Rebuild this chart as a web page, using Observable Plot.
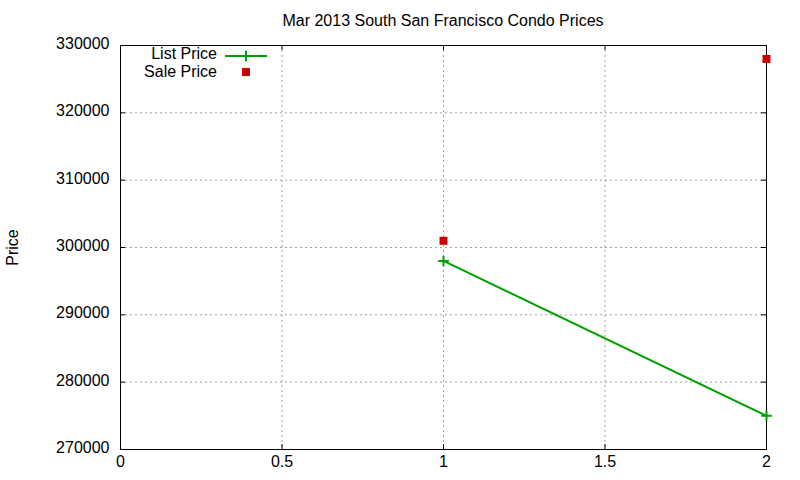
<!DOCTYPE html>
<html>
<head>
<meta charset="utf-8">
<script src="https://cdn.jsdelivr.net/npm/d3@7"></script>
<script src="https://cdn.jsdelivr.net/npm/@observablehq/plot@0.6"></script>
<style>
  body { margin: 0; background: #fff; font-family: "Liberation Sans", Arial, sans-serif; }
  #wrap { position: relative; width: 800px; height: 480px; overflow: hidden; }
  #title { position: absolute; left: 120px; width: 646px; top: 12.5px; height: 16px; line-height: 16px;
           text-align: center; font-size: 16px; color: #000; }
  #chart { position: absolute; left: 0; top: 35px; }
  #legend { position: absolute; left: 0; top: 0; }
</style>
</head>
<body>
<div id="wrap">
  <div id="title">Mar 2013 South San Francisco Condo Prices</div>
  <div id="chart"></div>
  <svg id="legend" width="300" height="90"></svg>
</div>
<script>
// ---- data ----
const xValues = [1, 2];
const listPrice = [298000, 275000];
const salePrice = [301000, 328000];
const xTicks = [0, 0.5, 1, 1.5, 2];
const yTicks = [270000, 280000, 290000, 300000, 310000, 320000, 330000];
const seriesNames = ["List Price", "Sale Price"];
const yLabel = "Price";

const GREEN = "#00a000", RED = "#cc0000", GRID = "#a0a0a0";

const listData = xValues.map((x, i) => ({x, y: listPrice[i]}));
const saleData = xValues.map((x, i) => ({x, y: salePrice[i]}));

const W = 800, H = 445, mL = 120, mR = 34, mT = 10, mB = 31;
const pw = W - mL - mR, ph = H - mT - mB, tk = 5;

const chart = Plot.plot({
  width: W, height: H,
  marginLeft: mL, marginRight: mR, marginTop: mT, marginBottom: mB,
  style: {fontFamily: "Liberation Sans, Arial, sans-serif", fontSize: "16px", color: "#000", background: "#fff"},
  x: {domain: [xTicks[0], xTicks[xTicks.length - 1]]},
  y: {domain: [yTicks[0], yTicks[yTicks.length - 1]]},
  marks: [
    Plot.gridX(xTicks.slice(1, -1), {stroke: GRID, strokeOpacity: 1, strokeDasharray: "2,3"}),
    Plot.gridY(yTicks.slice(1, -1), {stroke: GRID, strokeOpacity: 1, strokeDasharray: "2,3"}),
    Plot.axisX(xTicks, {tickSize: 0, tickPadding: 6, tickFormat: d => String(d), label: null, fontSize: 16}),
    Plot.axisY(yTicks, {tickSize: 0, tickPadding: 11, dy: -1.5, tickFormat: d => String(d), fontSize: 16,
      label: yLabel, labelAnchor: "center", labelArrow: "none", labelOffset: 114}),
    // inward mirrored ticks
    Plot.tickY(yTicks, {y: d => d, insetRight: pw - tk, stroke: "#000"}),
    Plot.tickY(yTicks, {y: d => d, insetLeft: pw - tk, stroke: "#000"}),
    Plot.tickX(xTicks, {x: d => d, insetTop: ph - tk, stroke: "#000"}),
    Plot.tickX(xTicks, {x: d => d, insetBottom: ph - tk, stroke: "#000"}),
    Plot.frame({stroke: "#000"}),
    Plot.line(listData, {x: "x", y: "y", stroke: GREEN, strokeWidth: 2}),
    Plot.dot(listData, {x: "x", y: "y", symbol: "plus", r: 3.5, stroke: GREEN, strokeWidth: 2}),
    Plot.dot(saleData, {x: "x", y: "y", symbol: "square", r: 4.5, fill: RED, stroke: "none"})
  ]
});
document.getElementById("chart").appendChild(chart);

// ---- legend (key) ----
const lg = d3.select("#legend");
const rows = [{name: seriesNames[0], ty: 54, y: 56}, {name: seriesNames[1], ty: 72, y: 72}];
rows.forEach(r => {
  lg.append("text").attr("x", 217).attr("y", r.ty).attr("dy", "0.32em")
    .attr("text-anchor", "end").attr("font-size", 16)
    .attr("font-family", "Liberation Sans, Arial, sans-serif").text(r.name);
});
lg.append("line").attr("x1", 225).attr("x2", 267).attr("y1", rows[0].y).attr("y2", rows[0].y)
  .attr("stroke", GREEN).attr("stroke-width", 2);
lg.append("path").attr("d", d3.symbol(d3.symbolPlus, Math.PI * 3.5 * 3.5)())
  .attr("transform", `translate(246,${rows[0].y})`).attr("fill", "none")
  .attr("stroke", GREEN).attr("stroke-width", 2);
lg.append("rect").attr("x", 242).attr("y", rows[1].y - 4).attr("width", 8).attr("height", 8).attr("fill", RED);
</script>
</body>
</html>
